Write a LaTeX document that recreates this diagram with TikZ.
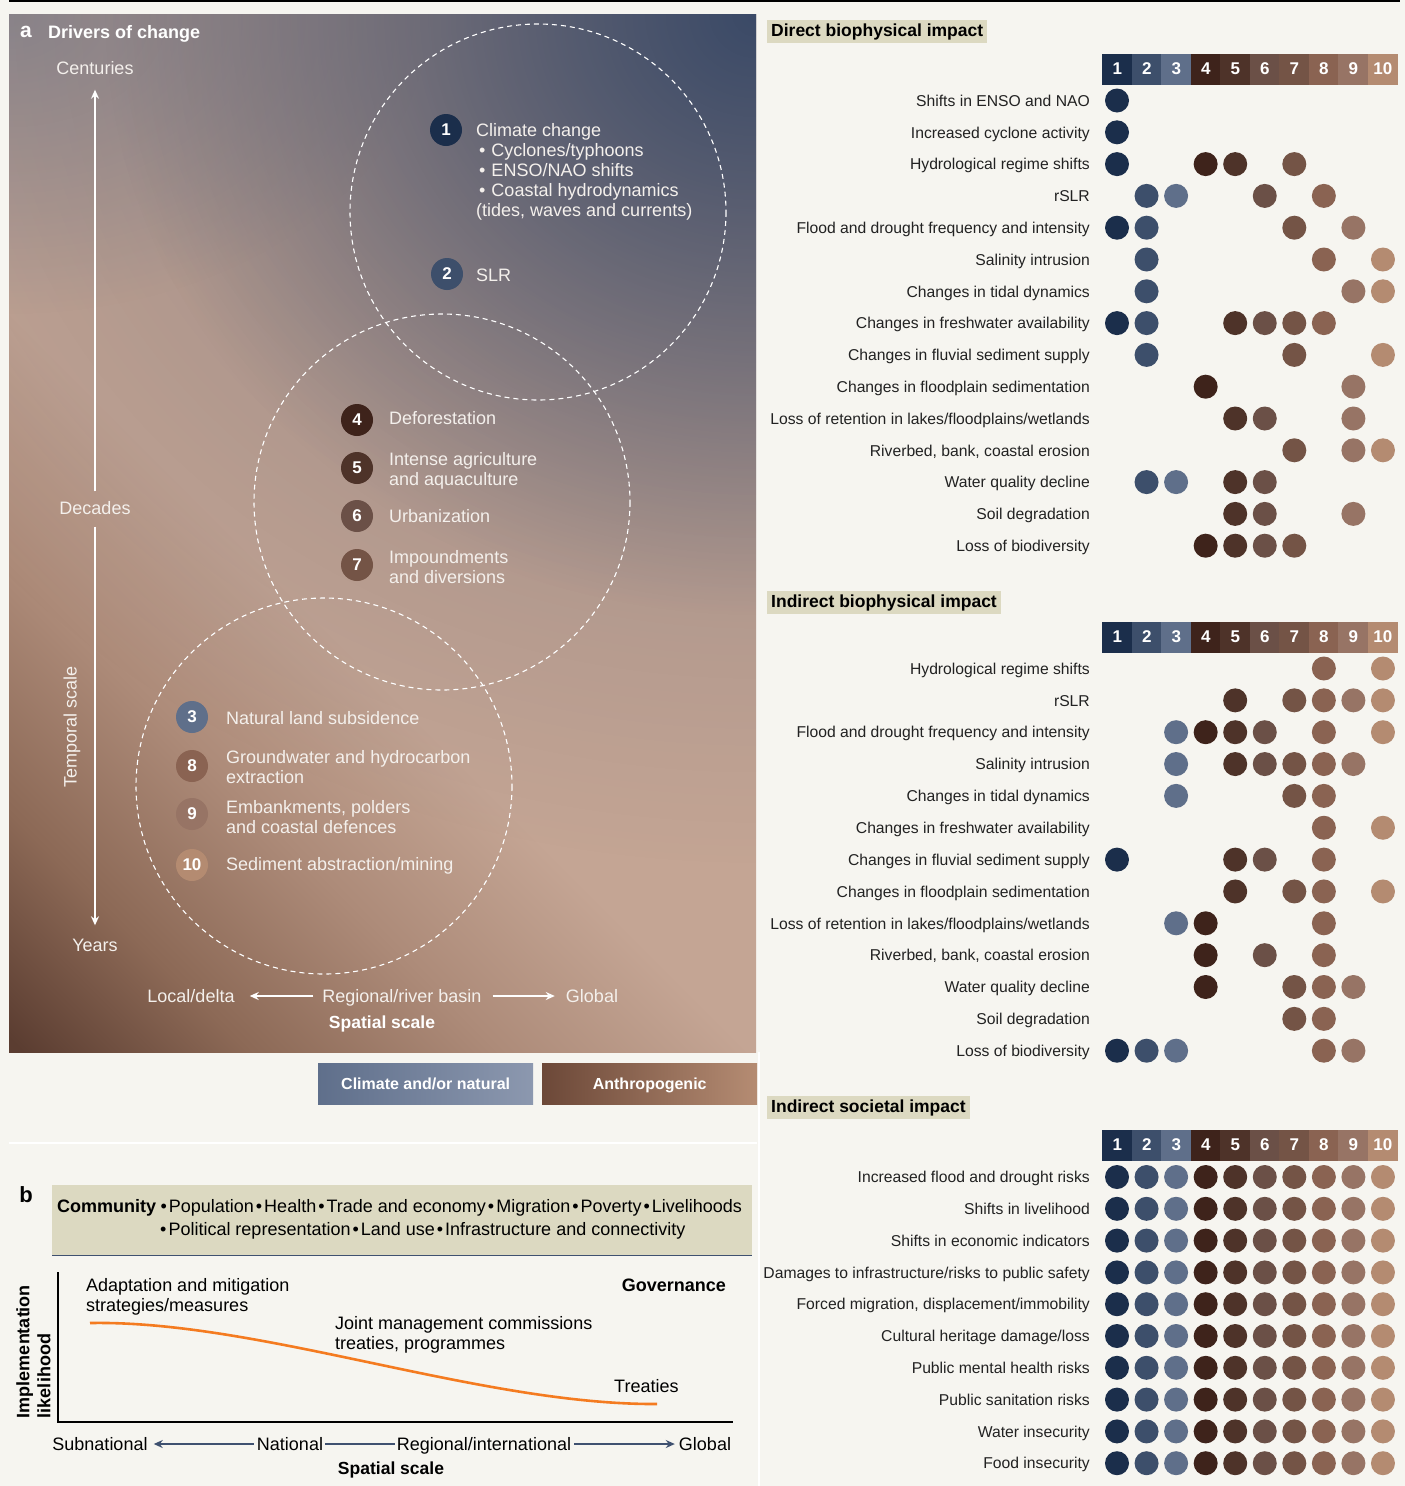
\documentclass[tikz,border=0pt]{standalone}
\usepackage{fontspec}
\setmainfont{Liberation Sans}
\usetikzlibrary{arrows.meta,fadings}
\newcommand\myfs[2]{\fontsize{#1}{#2}\selectfont}
\newcommand\bdot{\hspace{2pt}•\hspace{2pt}}
\definecolor{c1}{HTML}{1B2E4B}
\definecolor{c2}{HTML}{3D4F6B}
\definecolor{c3}{HTML}{5F6F8A}
\definecolor{c4}{HTML}{3E231B}
\definecolor{c5}{HTML}{4E3329}
\definecolor{c6}{HTML}{6B5047}
\definecolor{c7}{HTML}{745446}
\definecolor{c8}{HTML}{8A6352}
\definecolor{c9}{HTML}{977465}
\definecolor{c10}{HTML}{B48B71}
\definecolor{bgc}{HTML}{F6F5F0}
\definecolor{khaki}{HTML}{DCD9C1}
\definecolor{brA}{HTML}{5B3D31}
\definecolor{brB}{HTML}{8C6956}
\definecolor{brC}{HTML}{AD8B79}
\definecolor{bgD}{HTML}{C4A594}
\definecolor{blueA}{HTML}{3B4A67}
\definecolor{grayA}{HTML}{86838C}
\definecolor{txtA}{HTML}{F4F0EC}
\definecolor{orangeC}{HTML}{F47B20}
\definecolor{arrowB}{HTML}{3F5170}
\definecolor{legAL}{HTML}{5F6F8B}
\definecolor{legAR}{HTML}{8C98AF}
\definecolor{legBL}{HTML}{6C4838}
\definecolor{legBR}{HTML}{B58C73}
\definecolor{lbltext}{HTML}{222222}
\pgfdeclarehorizontalshading{panelA}{100bp}{color(0bp)=(brA); color(15bp)=(brA); color(24bp)=(brB); color(34bp)=(brC); color(44bp)=(bgD); color(100bp)=(bgD)}
\tikzfading[name=blueglow, inner color=transparent!0, outer color=transparent!100]
\begin{document}
\begin{tikzpicture}[x=1pt,y=-1pt,
  lbl/.style={inner sep=0pt, text=txtA, font={\myfs{18}{20}}, align=left, anchor=west},
  axl/.style={inner sep=2pt, text=txtA, font={\myfs{18}{20}}, text height=13pt, text depth=0pt},
  badge/.style={circle, minimum size=32pt, inner sep=0pt, text=white, font={\bfseries\myfs{17}{17}}},
  warr/.style={draw=white, line width=2pt, -{Stealth[length=9pt,width=8pt]}},
  barr/.style={draw=arrowB, line width=2pt, -{Stealth[length=9pt,width=8pt]}},
  dcirc/.style={draw=white, dash pattern=on 5pt off 4pt, line width=1.1pt},
  impdot/.style={circle, minimum size=24pt, inner sep=0pt},
  numcell/.style={minimum width=29.8pt, minimum height=31pt, inner sep=0pt, text=white, font={\bfseries\myfs{17}{17}}},
  rowlbl/.style={anchor=east, font={\myfs{15.7}{17}}, text=lbltext, inner sep=0pt, text height=11.5pt, text depth=0pt},
  hdr/.style={fill=khaki, anchor=west, inner xsep=4pt, inner ysep=0pt, minimum height=23pt, font={\bfseries\myfs{17.5}{18}}},
  btxt/.style={inner sep=0pt, font={\myfs{18}{20}}, text=black, align=left},
  bax/.style={inner sep=2pt, font={\myfs{18}{20}}, text=black, text height=13pt, text depth=0pt},
  leg/.style={minimum width=215pt, minimum height=41pt, anchor=north west, inner sep=0pt, text=white, font={\bfseries\myfs{16}{16}}, text height=12pt, text depth=0pt}
]
\useasboundingbox (0,0) rectangle (1405,1486);
\fill[bgc] (0,0) rectangle (1405,1486);
\draw[line width=1.5pt] (9,1) -- (1400,1);

% ---------------- panel a background
\shade[shading=panelA, shading angle=45] (9,14) rectangle (756,1052);
\begin{scope}
  \clip (9,14) rectangle (756,1052);
  \fill[grayA, path fading=blueglow, fill opacity=0.8] (9,14) ellipse [x radius=420, y radius=300];
  \fill[blueA, path fading=blueglow, fill opacity=0.4] (756,14) ellipse [x radius=1000, y radius=850];
  \fill[blueA, path fading=blueglow] (756,14) ellipse [x radius=650, y radius=600];
\end{scope}

% dashed circles
\draw[dcirc] (538,212) circle (188);
\draw[dcirc] (442,502) circle (188);
\draw[dcirc] (324,786) circle (188);

% title
\node[font={\bfseries\myfs{21}{21}}, text=white, inner sep=0pt] (pa) at (26,32) {a};
\node[font={\bfseries\myfs{18}{20}}, text=white, anchor=west, inner sep=0pt] (pat) at (48,34) {Drivers of change};

% temporal axis
\node[axl] (cent) at (95,68) {Centuries};
\node[axl] (dec) at (95,508) {Decades};
\node[axl] (yrs) at (95,945) {Years};
\draw[warr, shorten <=8pt, shorten >=13pt] (dec) -- (cent);
\draw[warr, shorten <=10pt, shorten >=11pt] (dec) -- (yrs);
\node[axl, rotate=90] (tsc) at (70,727) {Temporal scale};

% spatial axis
\node[axl] (loc) at (191,996) {Local/delta};
\node[axl] (reg) at (402,996) {Regional/river basin};
\node[axl] (glb) at (592,996) {Global};
\draw[warr, shorten <=7pt, shorten >=13pt] (reg) -- (loc);
\draw[warr, shorten <=9pt, shorten >=9pt] (reg) -- (glb);
\node[font={\bfseries\myfs{17.5}{18}}, text=white, inner sep=0pt] (ssa) at (382,1024) {Spatial scale};

% drivers
\node[badge, fill=c1] (b1) at (446,130) {1};
\node[lbl] (t1) at (476,171.5) {Climate change\\\hspace{3pt}•\hspace{6pt}Cyclones/typhoons\\\hspace{3pt}•\hspace{6pt}ENSO/NAO shifts\\\hspace{3pt}•\hspace{6pt}Coastal hydrodynamics\\(tides, waves and currents)};
\node[badge, fill=c2] (b2) at (447,274) {2};
\node[lbl] (t2) at (476,275) {SLR};
\node[badge, fill=c4] (b4) at (357,420) {4};
\node[lbl] (t4) at (389,418) {Deforestation};
\node[badge, fill=c5] (b5) at (357,468) {5};
\node[lbl] (t5) at (389,471) {Intense agriculture\\and aquaculture};
\node[badge, fill=c6] (b6) at (357,516) {6};
\node[lbl] (t6) at (389,516) {Urbanization};
\node[badge, fill=c7] (b7) at (357,565) {7};
\node[lbl] (t7) at (389,567) {Impoundments\\and diversions};
\node[badge, fill=c3] (b3) at (192,717) {3};
\node[lbl] (t3) at (226,718) {Natural land subsidence};
\node[badge, fill=c8] (b8) at (192,766) {8};
\node[lbl] (t8) at (226,767) {Groundwater and hydrocarbon\\extraction};
\node[badge, fill=c9] (b9) at (192,814) {9};
\node[lbl] (t9) at (226,817) {Embankments, polders\\and coastal defences};
\node[badge, fill=c10] (b10) at (192,865) {10};
\node[lbl] (t10) at (226,866) {Sediment abstraction/mining};

% legend
\node[leg, left color=legAL, right color=legAR] (legC) at (318,1063) {Climate and/or natural};
\node[leg, left color=legBL, right color=legBR] (legH) at (542,1063) {Anthropogenic};

% separators
\draw[white, line width=2pt] (9,1143) -- (757,1143);
\draw[white, line width=2pt] (759,1052) -- (759,1486);

% ---------------- panel b
\node[font={\bfseries\myfs{22}{22}}, inner sep=0pt] (pb) at (26,1195) {b};
\node[fill=khaki, minimum width=700pt, minimum height=70pt, anchor=north west, inner sep=0pt] (commbox) at (52,1185) {};
\draw[draw=arrowB, line width=1.3pt] (commbox.south west) -- (commbox.south east);
\node[anchor=west, inner sep=0pt, font={\bfseries\myfs{18}{20}}] (comm) at (57,1208) {Community};
\node[anchor=west, inner sep=0pt, font={\myfs{18}{20}}] (commA) at ([xshift=2pt]comm.east) {\bdot Population\bdot Health\bdot Trade and economy\bdot Migration\bdot Poverty\bdot Livelihoods};
\node[anchor=west, inner sep=0pt, font={\myfs{18}{20}}] (commB) at (158,1231) {\bdot Political representation\bdot Land use\bdot Infrastructure and connectivity};

\coordinate (ytop) at (58,1272);
\coordinate (orig) at (58,1422);
\coordinate (xend) at (733,1422);
\draw[line width=1.2pt] (ytop) -- (orig) -- (xend);
\node[rotate=90, align=left, inner sep=0pt, font={\bfseries\myfs{18}{21}}] (impl) at (33.5,1351.5) {Implementation\\likelihood};
\node[btxt, anchor=west] (adapt) at (86,1297) {Adaptation and mitigation\\strategies/measures};
\node[inner sep=0pt, anchor=east, font={\bfseries\myfs{18}{20}}] (gov) at (726,1285) {Governance};
\node[btxt, anchor=west] (joint) at (335,1335) {Joint management commissions\\treaties, programmes};
\node[btxt, anchor=west] (treat) at (614,1386) {Treaties};
\coordinate (cs) at (90,1323);
\coordinate (ce) at (657,1404);
\draw[orangeC, line width=2.6pt] (cs) .. controls (260,1320) and (480,1405) .. (ce);

\node[bax] (sub) at (100,1444) {Subnational};
\node[bax] (nat) at (290,1444) {National};
\node[bax] (regi) at (484,1444) {Regional/international};
\node[bax] (glo) at (705,1444) {Global};
\draw[barr, shorten <=1pt, shorten >=4pt] (nat) -- (sub);
\draw[draw=arrowB, line width=2pt] (nat) -- (regi);
\draw[barr, shorten <=1pt, shorten >=2pt] (regi) -- (glo);
\node[inner sep=0pt, font={\bfseries\myfs{17.5}{18}}] (ssb) at (391,1470) {Spatial scale};

% ---------------- right panel
\node[hdr] (h1) at (767,31.5) {Direct biophysical impact};
\node[hdr] (h2) at (767,602.5) {Indirect biophysical impact};
\node[hdr] (h3) at (767,1107.5) {Indirect societal impact};

\foreach \c in {1,...,10} {
  \node[numcell, fill=c\c] (nA\c) at ({1117.3+29.5*(\c-1)},69) {\c};
  \node[numcell, fill=c\c] (nB\c) at ({1117.3+29.5*(\c-1)},637) {\c};
  \node[numcell, fill=c\c] (nC\c) at ({1117.3+29.5*(\c-1)},1145) {\c};
}

% direct
\foreach \lab [count=\i] in {{Shifts in ENSO and NAO},{Increased cyclone activity},{Hydrological regime shifts},{rSLR},{Flood and drought frequency and intensity},{Salinity intrusion},{Changes in tidal dynamics},{Changes in freshwater availability},{Changes in fluvial sediment supply},{Changes in floodplain sedimentation},{Loss of retention in lakes/floodplains/wetlands},{Riverbed, bank, coastal erosion},{Water quality decline},{Soil degradation},{Loss of biodiversity}}
  \node[rowlbl] (lA\i) at (1090,{100.5+31.8*(\i-1)}) {\lab};
\foreach \cols [count=\i] in {{1},{1},{1,4,5,7},{2,3,6,8},{1,2,7,9},{2,8,10},{2,9,10},{1,2,5,6,7,8},{2,7,10},{4,9},{5,6,9},{7,9,10},{2,3,5,6},{5,6,9},{4,5,6,7}} {
  \foreach \c in \cols {
    \node[impdot, fill=c\c] (dA-\i-\c) at ({1117+29.55*(\c-1)},{100.5+31.8*(\i-1)}) {};
  }
}

% indirect biophysical
\foreach \lab [count=\i] in {{Hydrological regime shifts},{rSLR},{Flood and drought frequency and intensity},{Salinity intrusion},{Changes in tidal dynamics},{Changes in freshwater availability},{Changes in fluvial sediment supply},{Changes in floodplain sedimentation},{Loss of retention in lakes/floodplains/wetlands},{Riverbed, bank, coastal erosion},{Water quality decline},{Soil degradation},{Loss of biodiversity}}
  \node[rowlbl] (lB\i) at (1090,{668.5+31.85*(\i-1)}) {\lab};
\foreach \cols [count=\i] in {{8,10},{5,7,8,9,10},{3,4,5,6,8,10},{3,5,6,7,8,9},{3,7,8},{8,10},{1,5,6,8},{5,7,8,10},{3,4,8},{4,6,8},{4,7,8,9},{7,8},{1,2,3,8,9}} {
  \foreach \c in \cols {
    \node[impdot, fill=c\c] (dB-\i-\c) at ({1117+29.55*(\c-1)},{668.5+31.85*(\i-1)}) {};
  }
}

% societal
\foreach \lab [count=\i] in {{Increased flood and drought risks},{Shifts in livelihood},{Shifts in economic indicators},{Damages to infrastructure/risks to public safety},{Forced migration, displacement/immobility},{Cultural heritage damage/loss},{Public mental health risks},{Public sanitation risks},{Water insecurity},{Food insecurity}}
  \node[rowlbl] (lC\i) at (1090,{1177+31.8*(\i-1)}) {\lab};
\foreach \i in {1,...,10} {
  \foreach \c in {1,...,10} {
    \node[impdot, fill=c\c] (dC-\i-\c) at ({1117+29.55*(\c-1)},{1177+31.8*(\i-1)}) {};
  }
}
\end{tikzpicture}
\end{document}
